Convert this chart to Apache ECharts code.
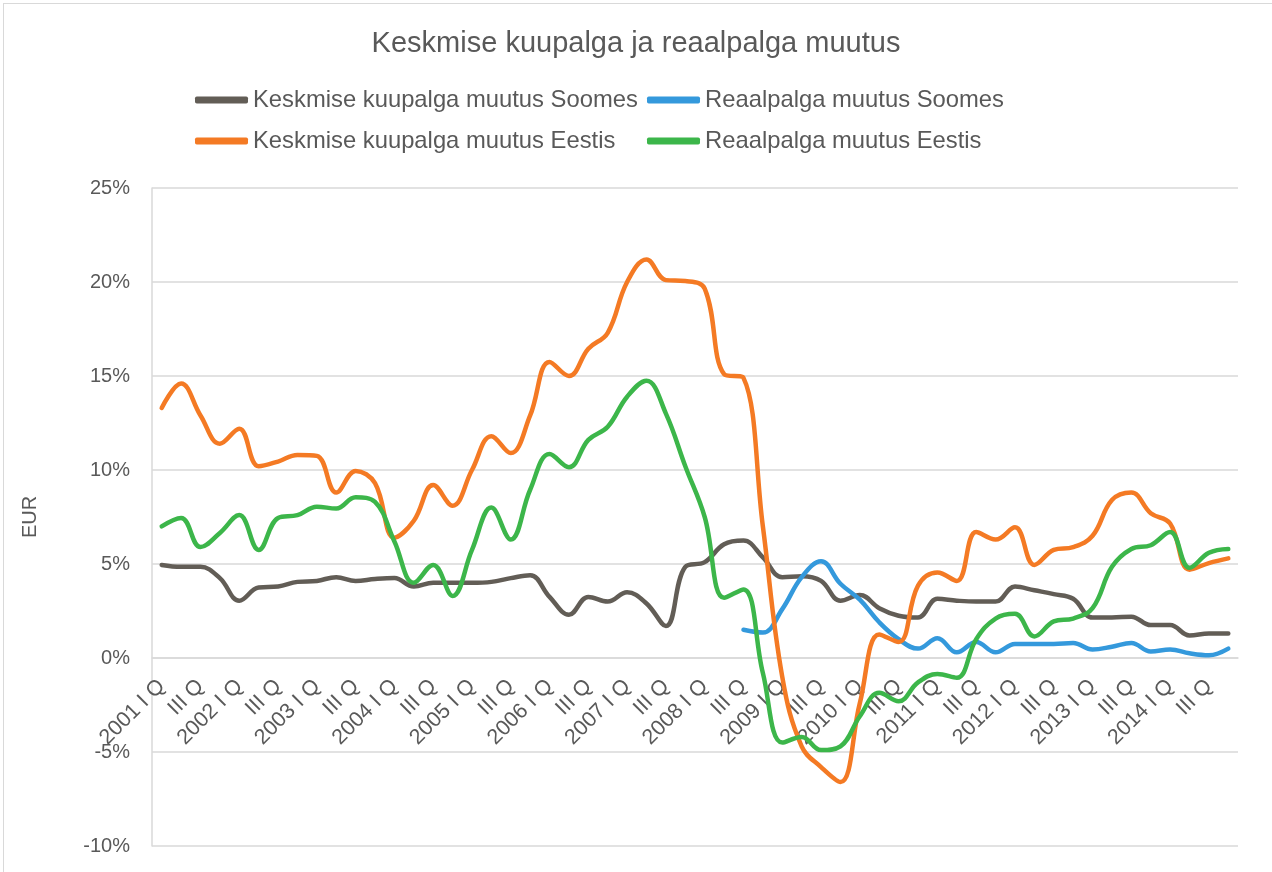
<!DOCTYPE html>
<html>
<head>
<meta charset="utf-8">
<script src="https://cdn.jsdelivr.net/npm/echarts@6/dist/echarts.min.js"></script>
<style>
  html, body { margin: 0; padding: 0; overflow: hidden; background: #fff; }
  #chart { position: absolute; left: 0; top: 0; width: 1272px; height: 872px; }
  #frame { position: absolute; left: 3px; top: 3px; width: 1400px; height: 1000px;
           border: 1px solid #d9d9d9; pointer-events: none; }
</style>
</head>
<body>
<div id="chart"></div>
<div id="frame"></div>
<script>
var years = [2001, 2002, 2003, 2004, 2005, 2006, 2007, 2008, 2009, 2010, 2011, 2012, 2013, 2014];
var quarters = ['I Q', 'II Q', 'III Q', 'IV Q'];

// keskmise kuupalga muutus Soomes
var kuupalkSoome = [4.95, 4.85, 4.85, 4.25, 3.05, 3.75, 3.8, 4.05, 4.1, 4.3, 4.1, 4.2, 4.25, 3.8,
  4.0, 4.0, 4.0, 4.05, 4.25, 4.4, 3.25, 2.3, 3.25, 3.0, 3.5, 2.9, 1.7, 4.85,
  5.1, 6.05, 6.25, 5.35, 4.3, 4.35, 4.1, 3.05, 3.35, 2.65, 2.25, 2.15, 3.15, 3.05,
  3.0, 3.0, 3.8, 3.6, 3.4, 3.15, 2.15, 2.15, 2.2, 1.75, 1.75, 1.2, 1.3, 1.3];

// reaalpalga muutus Soomes (andmed alates 2008 III Q)
var reaalSoome = [null, null, null, null, null, null, null, null, null, null, null, null, null, null,
  null, null, null, null, null, null, null, null, null, null, null, null, null, null,
  null, null, 1.5, 1.35, 2.6, 4.3, 5.15, 3.95, 3.1, 1.9, 1.0, 0.5, 1.05, 0.3,
  0.85, 0.3, 0.75, 0.75, 0.75, 0.8, 0.45, 0.6, 0.8, 0.35, 0.45, 0.25, 0.15, 0.5];

// keskmise kuupalga muutus Eestis
var kuupalkEesti = [13.3, 14.6, 12.9, 11.4, 12.2, 10.2, 10.45, 10.8, 10.75, 8.8, 9.95, 9.3, 6.4, 7.3,
  9.2, 8.1, 10.0, 11.8, 10.9, 12.9, 15.75, 15.0, 16.45, 17.3, 20.0, 21.2, 20.1, 20.05,
  19.65, 15.1, 14.9, 7.0, -1.0, -4.7, -5.8, -6.6, -2.4, 1.25, 0.85, 3.85, 4.55, 4.1,
  6.7, 6.3, 6.95, 4.95, 5.75, 5.9, 6.5, 8.4, 8.8, 7.7, 7.15, 4.7, 5.05, 5.3];

// reaalpalga muutus Eestis
var reaalEesti = [7.0, 7.45, 5.9, 6.65, 7.6, 5.75, 7.45, 7.6, 8.05, 7.95, 8.55, 8.3, 6.2, 4.0,
  4.95, 3.3, 5.75, 8.0, 6.3, 8.95, 10.85, 10.15, 11.6, 12.3, 13.9, 14.75, 13.0, 10.2,
  7.5, 3.2, 3.65, -0.8, -4.5, -4.2, -4.9, -4.7, -3.1, -1.85, -2.3, -1.3, -0.85, -1.05,
  1.0, 2.1, 2.35, 1.15, 1.95, 2.1, 2.65, 4.85, 5.8, 6.0, 6.7, 4.8, 5.6, 5.8];

var categories = [];
years.forEach(function (y) {
  quarters.forEach(function (q, i) {
    categories.push(i === 0 ? y + ' ' + q : q);
  });
});

var textColor = '#595959';
var gridColor = '#d9d9d9';
var font = 'Liberation Sans';

function lineSeries(name, data, color) {
  return {
    name: name,
    type: 'line',
    data: data,
    smooth: 0.4,
    showSymbol: false,
    connectNulls: false,
    lineStyle: { color: color, width: 4.5, cap: 'round', join: 'round' },
    itemStyle: { color: color }
  };
}

var legendBase = {
  orient: 'vertical',
  top: 88,
  padding: 0,
  itemGap: 17,
  itemWidth: 53,
  itemHeight: 7,
  icon: 'roundRect',
  textStyle: { fontFamily: font, fontSize: 23.8, color: textColor }
};

var chart = echarts.init(document.getElementById('chart'), null, { renderer: 'canvas' });

chart.setOption({
  animation: false,
  textStyle: { fontFamily: font },
  title: {
    text: 'Keskmise kuupalga ja reaalpalga muutus',
    left: 'center',
    top: 24,
    textStyle: { fontFamily: font, fontSize: 29, fontWeight: 'normal', color: textColor }
  },
  legend: [
    Object.assign({}, legendBase, {
      data: ['Keskmise kuupalga muutus Soomes', 'Keskmise kuupalga muutus Eestis'],
      left: 195
    }),
    Object.assign({}, legendBase, {
      data: ['Reaalpalga muutus Soomes', 'Reaalpalga muutus Eestis'],
      left: 647
    })
  ],
  grid: { left: 152, right: 34, top: 188, bottom: 26, outerBoundsMode: 'none' },
  xAxis: {
    type: 'category',
    data: categories,
    boundaryGap: true,
    offset: -188,
    axisLine: { onZero: false, lineStyle: { color: gridColor, width: 1.5 } },
    axisTick: { show: false },
    axisLabel: {
      interval: 1,
      rotate: 45,
      margin: 25,
      fontFamily: font,
      fontSize: 21.5,
      color: textColor
    },
    splitLine: { show: false }
  },
  yAxis: {
    type: 'value',
    min: -10,
    max: 25,
    interval: 5,
    name: 'EUR',
    nameLocation: 'middle',
    nameGap: 112,
    nameRotate: 90,
    nameTextStyle: { fontFamily: font, fontSize: 20, color: textColor },
    axisLine: { show: true, lineStyle: { color: gridColor, width: 1.5 } },
    axisTick: { show: false },
    axisLabel: {
      margin: 22,
      fontFamily: font,
      fontSize: 20,
      color: textColor,
      formatter: function (v) { return v + '%'; }
    },
    splitLine: { lineStyle: { color: gridColor, width: 1.5 } }
  },
  series: [
    lineSeries('Keskmise kuupalga muutus Soomes', kuupalkSoome, '#625d56'),
    lineSeries('Reaalpalga muutus Soomes', reaalSoome, '#3499dc'),
    lineSeries('Keskmise kuupalga muutus Eestis', kuupalkEesti, '#f47a24'),
    lineSeries('Reaalpalga muutus Eestis', reaalEesti, '#3cb64a')
  ]
});
</script>
</body>
</html>
